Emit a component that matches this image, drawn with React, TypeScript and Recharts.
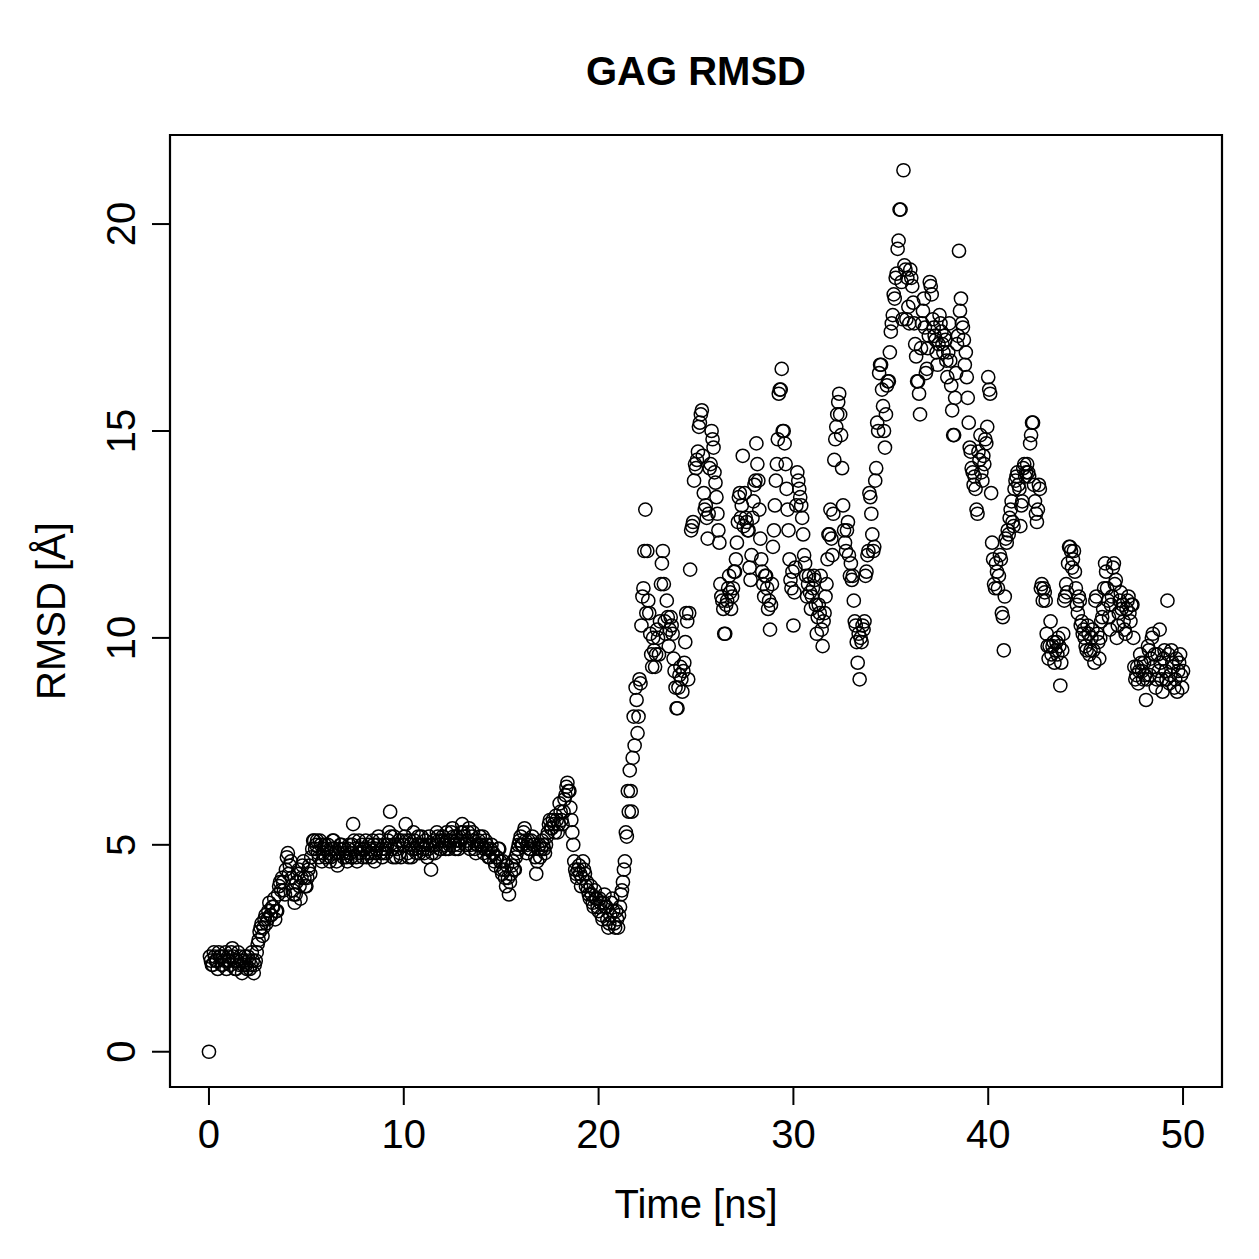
import React from "react";
import { ScatterChart, Scatter, XAxis, YAxis, ReferenceArea } from "recharts";

// RMSD (Å) sampled every 0.05 ns from 0 to 50 ns (20 values per ns)
const timeStep = 0.05;
const rmsd: number[] = [
  // 0
  0.0, 2.3, 2.2, 2.1, 2.1, 2.4, 2.3, 2.2, 2.2, 2.0,
  2.4, 2.3, 2.3, 2.1, 2.1, 2.3, 2.2, 2.4, 2.0, 2.2,
  // 1
  2.3, 2.2, 2.1, 2.4, 2.5, 2.3, 2.2, 2.0, 2.0, 2.2,
  2.4, 2.1, 2.3, 2.2, 1.9, 2.1, 2.2, 2.3, 2.1, 2.0,
  // 2
  2.3, 2.2, 2.0, 2.1, 2.4, 2.2, 1.9, 2.1, 2.2, 2.4,
  2.6, 2.7, 2.9, 3.0, 3.1, 2.8, 3.0, 3.2, 3.3, 3.1,
  // 3
  3.2, 3.4, 3.6, 3.3, 3.3, 3.5, 3.5, 3.7, 3.2, 3.4,
  3.4, 3.8, 4.0, 4.1, 3.9, 4.2, 4.1, 3.9, 3.8, 4.4,
  // 4
  4.7, 4.8, 4.3, 4.5, 4.6, 4.2, 3.9, 3.8, 3.6, 3.8,
  4.1, 4.3, 4.4, 4.0, 3.7, 4.2, 4.5, 4.6, 4.2, 4.0,
  // 5
  4.0, 4.2, 4.4, 4.5, 4.3, 4.7, 4.9, 5.1, 5.1, 4.9,
  5.0, 5.1, 4.8, 4.7, 5.1, 5.0, 4.6, 4.8, 4.9, 5.0,
  // 6
  4.7, 4.9, 5.0, 4.8, 4.6, 4.7, 4.9, 5.1, 5.1, 4.9,
  4.8, 4.6, 4.5, 4.8, 4.9, 5.0, 5.0, 4.8, 4.7, 4.9,
  // 7
  4.8, 4.7, 4.6, 4.9, 5.0, 4.8, 4.7, 5.0, 5.5, 5.1,
  4.9, 4.7, 4.6, 4.8, 5.1, 4.9, 4.8, 5.0, 4.7, 4.9,
  // 8
  4.9, 5.1, 4.7, 4.8, 5.0, 4.9, 4.8, 4.7, 5.1, 5.0,
  4.6, 4.8, 4.9, 5.0, 5.2, 5.1, 4.8, 4.9, 4.7, 4.8,
  // 9
  5.0, 4.9, 4.8, 5.0, 5.1, 5.3, 5.8, 5.2, 4.9, 4.7,
  5.2, 5.0, 4.7, 4.9, 5.0, 5.1, 4.8, 4.7, 5.1, 5.0,
  // 10
  5.0, 5.2, 5.5, 5.1, 4.8, 4.7, 5.1, 5.0, 4.7, 4.9,
  5.3, 5.1, 4.9, 4.8, 5.0, 5.2, 4.8, 5.0, 5.2, 5.0,
  // 11
  4.9, 4.8, 5.1, 5.0, 4.7, 4.9, 5.2, 5.0, 4.4, 4.8,
  5.0, 5.1, 4.8, 5.0, 5.3, 5.2, 5.1, 4.9, 4.9, 5.1,
  // 12
  5.2, 5.1, 5.0, 4.9, 5.3, 5.1, 4.9, 5.0, 5.1, 5.3,
  5.4, 5.2, 5.0, 4.9, 5.2, 5.1, 4.9, 5.0, 5.1, 5.3,
  // 13
  5.5, 5.3, 5.2, 5.0, 5.0, 5.1, 5.3, 5.4, 4.9, 5.0,
  5.2, 5.3, 5.1, 4.9, 4.8, 5.0, 5.0, 5.1, 5.2, 5.0,
  // 14
  5.0, 5.2, 4.8, 4.9, 5.1, 5.0, 4.9, 4.7, 4.7, 4.9,
  5.0, 4.8, 4.8, 4.6, 4.5, 4.7, 4.7, 4.9, 4.9, 4.6,
  // 15
  4.4, 4.3, 4.6, 4.4, 4.2, 4.0, 4.5, 4.2, 3.8, 4.1,
  4.3, 4.5, 4.6, 4.4, 4.4, 4.7, 4.8, 4.9, 5.0, 5.1,
  // 16
  5.2, 5.0, 5.0, 5.3, 5.4, 5.1, 4.8, 5.0, 5.1, 4.9,
  4.9, 5.1, 5.2, 5.0, 5.0, 4.7, 4.3, 4.6, 4.9, 5.0,
  // 17
  4.7, 4.9, 5.1, 5.0, 4.9, 4.8, 5.0, 5.2, 5.3, 5.5,
  5.6, 5.4, 5.4, 5.6, 5.5, 5.3, 5.7, 5.6, 5.3, 5.5,
  // 18
  6.0, 5.8, 5.6, 5.5, 5.8, 6.1, 6.2, 6.4, 6.5, 6.3,
  6.3, 5.9, 5.6, 5.3, 5.0, 4.6, 4.4, 4.3, 4.2, 4.4,
  // 19
  4.5, 4.3, 4.0, 4.2, 4.6, 4.4, 4.3, 4.0, 4.1, 3.9,
  3.8, 3.7, 4.0, 3.8, 3.6, 3.5, 3.9, 3.7, 3.7, 3.5,
  // 20
  3.4, 3.7, 3.6, 3.3, 3.2, 3.6, 3.8, 3.5, 3.5, 3.2,
  3.0, 3.1, 3.3, 3.6, 3.7, 3.4, 3.1, 3.0, 3.4, 3.2,
  // 21
  3.0, 3.3, 3.5, 3.8, 3.9, 4.1, 4.4, 4.6, 5.3, 5.2,
  6.3, 5.8, 6.8, 6.3, 5.8, 7.1, 8.1, 7.4, 8.8, 8.5,
  // 22
  7.7, 8.1, 9.0, 8.9, 10.3, 11.0, 11.2, 12.1, 13.1, 10.6,
  12.1, 10.9, 10.6, 10.1, 9.6, 9.3, 10.0, 9.7, 9.3, 9.6,
  // 23
  10.2, 10.0, 9.6, 10.4, 11.3, 11.8, 12.1, 11.3, 10.4, 10.1,
  10.9, 10.5, 9.8, 10.2, 10.5, 10.3, 10.1, 9.5, 9.2, 8.8,
  // 24
  8.3, 8.3, 8.8, 9.1, 9.3, 9.0, 8.7, 9.2, 9.4, 9.9,
  10.6, 10.4, 9.0, 10.6, 11.65, 12.6, 12.7, 12.8, 13.8, 14.2,
  // 25
  14.1, 14.3, 14.5, 15.1, 15.2, 15.4, 15.5, 14.4, 13.5, 13.1,
  13.2, 12.9, 12.4, 13.0, 14.1, 14.2, 15.0, 14.8, 14.6, 14.0,
  // 26
  13.75, 13.4, 13.0, 12.6, 12.3, 11.3, 11.0, 10.9, 10.7, 10.1,
  10.1, 10.8, 10.9, 11.2, 11.5, 11.1, 10.7, 11.0, 11.2, 11.6,
  // 27
  11.6, 11.9, 12.3, 12.8, 13.4, 13.5, 12.9, 13.2, 14.4, 12.7,
  13.5, 12.9, 12.8, 12.6, 12.6, 11.7, 11.4, 12.0, 12.9, 13.3,
  // 28
  13.7, 13.8, 14.7, 14.2, 13.8, 13.1, 12.4, 11.9, 11.6, 11.3,
  11.0, 11.5, 11.5, 11.2, 10.7, 10.9, 10.2, 10.8, 11.3, 12.2,
  // 29
  12.6, 13.2, 13.8, 14.2, 14.8, 15.9, 16.0, 16.0, 16.5, 15.0,
  15.0, 14.7, 14.2, 13.6, 13.1, 12.6, 11.9, 11.4, 11.2, 11.6,
  // 30
  10.3, 11.1, 11.7, 13.2, 14.0, 13.8, 13.6, 13.4, 13.2, 12.9,
  12.5, 12.0, 11.8, 11.5, 11.0, 11.3, 11.5, 11.1, 10.7, 11.0,
  // 31
  11.2, 11.5, 11.4, 10.8, 10.1, 10.5, 10.8, 10.6, 11.5, 10.2,
  9.8, 10.4, 10.6, 11.0, 11.3, 11.9, 12.5, 12.5, 13.1, 12.4,
  // 32
  12.0, 13.0, 14.3, 14.8, 15.1, 15.4, 15.7, 15.9, 15.4, 14.9,
  14.1, 13.2, 12.6, 12.3, 12.1, 12.6, 12.8, 12.0, 11.5, 11.8,
  // 33
  11.4, 11.5, 10.9, 10.4, 10.3, 9.9, 9.4, 10.1, 9.0, 10.0,
  9.9, 10.3, 10.2, 10.4, 11.5, 11.6, 12.0, 12.1, 13.5, 13.4,
  // 34
  13.0, 12.5, 12.1, 12.2, 13.8, 14.1, 15.2, 15.0, 16.4, 16.6,
  16.6, 16.0, 15.6, 15.0, 14.6, 15.4, 16.1, 16.2, 16.2, 16.9,
  // 35
  17.4, 17.6, 17.8, 18.3, 18.2, 18.7, 18.8, 19.4, 19.6, 20.35,
  20.35, 18.6, 17.7, 21.3, 19.0, 18.9, 17.7, 18.7, 18.0, 17.6,
  // 36
  18.9, 18.7, 18.5, 18.1, 17.6, 17.1, 16.8, 16.2, 16.2, 15.9,
  15.4, 17.0, 17.6, 17.9, 18.2, 17.5, 16.4, 16.5, 17.0, 17.3,
  // 37
  18.6, 18.5, 18.3, 17.7, 17.5, 17.3, 17.2, 16.9, 16.6, 17.1,
  17.8, 17.6, 17.4, 17.1, 16.9, 17.3, 17.2, 16.7, 16.3, 16.9,
  // 38
  17.6, 16.7, 16.1, 15.5, 14.9, 14.9, 15.8, 16.4, 17.1, 17.3,
  19.35, 17.9, 18.2, 17.6, 17.5, 17.2, 16.6, 16.9, 16.3, 15.8,
  // 39
  15.2, 14.6, 14.5, 14.1, 14.0, 13.7, 13.9, 13.6, 13.1, 13.0,
  14.5, 14.3, 14.9, 14.0, 13.8, 14.4, 14.2, 14.8, 14.7, 15.1,
  // 40
  16.3, 16.0, 15.9, 13.5, 12.3, 11.9, 11.3, 11.2, 11.8, 11.6,
  11.2, 11.5, 12.0, 11.9, 10.6, 10.5, 9.7, 11.0, 12.4, 12.3,
  // 41
  12.6, 12.5, 12.9, 13.1, 13.3, 12.8, 12.7, 13.6, 13.8, 13.9,
  14.0, 13.7, 13.6, 12.7, 13.2, 13.3, 14.1, 14.2, 13.9, 14.0,
  // 42
  14.2, 14.0, 13.9, 14.7, 14.9, 15.2, 15.2, 13.7, 13.3, 13.0,
  12.8, 13.1, 13.7, 13.6, 11.2, 11.3, 10.9, 11.2, 11.1, 10.9,
  // 43
  10.1, 9.8, 9.5, 9.8, 10.4, 9.6, 9.8, 9.9, 9.4, 9.7,
  9.9, 9.6, 10.0, 9.8, 8.85, 9.4, 9.7, 10.1, 10.9, 11.0,
  // 44
  11.3, 11.1, 11.8, 12.2, 12.2, 12.1, 11.7, 11.9, 12.1, 11.6,
  11.2, 10.8, 10.6, 11.0, 10.9, 10.3, 10.4, 10.1, 10.2, 10.0,
  // 45
  9.8, 9.7, 10.3, 10.1, 9.6, 9.7, 10.0, 10.2, 9.7, 9.4,
  10.9, 11.0, 10.1, 9.9, 9.5, 10.0, 10.4, 10.5, 10.7, 11.2,
  // 46
  11.8, 11.6, 11.2, 10.9, 10.5, 10.2, 10.8, 11.0, 11.7, 11.8,
  11.3, 11.4, 10.0, 10.3, 10.6, 10.9, 11.1, 10.7, 10.8, 10.4,
  // 47
  10.2, 10.1, 10.7, 10.9, 11.0, 10.6, 10.4, 10.8, 10.8, 10.0,
  9.3, 9.0, 9.1, 9.3, 8.9, 9.2, 9.6, 9.4, 9.2, 9.0,
  // 48
  9.4, 9.1, 8.5, 9.0, 9.8, 9.7, 9.1, 9.5, 10.0, 10.1,
  9.3, 9.6, 8.8, 9.0, 9.6, 9.2, 10.2, 9.4, 9.0, 8.7,
  // 49
  9.5, 9.7, 9.2, 9.0, 10.9, 9.6, 8.9, 9.1, 9.7, 9.4,
  9.3, 8.8, 9.0, 9.5, 8.7, 9.2, 9.4, 9.6, 9.1, 8.8,
  // 50
  9.2,
];

const xTicks = [0, 10, 20, 30, 40, 50];
const yTicks = [0, 5, 10, 15, 20];
const xDomain: [number, number] = [-2, 52];
const yDomain: [number, number] = [-0.852, 22.152];

const chartTitle = "GAG RMSD";
const xTitle = "Time [ns]";
const yTitle = "RMSD [Å]";

const data = rmsd.map((v, i) => ({ t: +(i * timeStep).toFixed(3), v }));

const FONT = "'Liberation Sans', Arial, Helvetica, sans-serif";

const W = 1251;
const H = 1251;

const Ring = (props: any) => {
  const { cx, cy } = props;
  if (cx == null || cy == null) return null;
  return <circle cx={cx} cy={cy} r={6.6} fill="none" stroke="#000" strokeWidth={1.5} />;
};

const XTick = (props: any) => {
  const { x, payload } = props;
  return (
    <text x={x} y={1140} textAnchor="middle" fontSize={40} fontFamily={FONT} fill="#000">
      {payload.value}
    </text>
  );
};

const YTick = (props: any) => {
  const { y, payload } = props;
  return (
    <text
      transform={`translate(127, ${y}) rotate(-90)`}
      textAnchor="middle"
      fontSize={40}
      fontFamily={FONT}
      fill="#000"
    >
      {payload.value}
    </text>
  );
};

export default function App() {
  return (
    <div style={{ position: "relative", width: W, height: H }}>
      <ScatterChart
        width={W}
        height={H}
        margin={{ top: 127, right: 37, bottom: 112, left: 82 }}
      >
        <XAxis
          type="number"
          dataKey="t"
          domain={xDomain}
          ticks={xTicks}
          allowDataOverflow
          axisLine={false}
          tickSize={18}
          tickLine={{ stroke: "#000", strokeWidth: 2 }}
          tick={<XTick />}
          height={60}
          interval={0}
        />
        <YAxis
          type="number"
          dataKey="v"
          domain={yDomain}
          ticks={yTicks}
          allowDataOverflow
          axisLine={false}
          tickSize={18}
          tickLine={{ stroke: "#000", strokeWidth: 2 }}
          tick={<YTick />}
          width={80}
          interval={0}
        />
        <ReferenceArea
          x1={xDomain[0]}
          x2={xDomain[1]}
          y1={yDomain[0]}
          y2={yDomain[1]}
          fill="none"
          stroke="#000"
          strokeWidth={2.2}
          ifOverflow="visible"
        />
        <Scatter data={data} shape={<Ring />} isAnimationActive={false} />
      </ScatterChart>
      <svg
        width={W}
        height={H}
        style={{ position: "absolute", left: 0, top: 0, pointerEvents: "none" }}
      >
        <text x={688} y={77} textAnchor="middle" fontSize={40} fontWeight="bold" fontFamily={FONT} fill="#000">
          {chartTitle}
        </text>
        <text x={688} y={1210} textAnchor="middle" fontSize={40} fontFamily={FONT} fill="#000">
          {xTitle}
        </text>
        <text
          transform={`translate(57, 603) rotate(-90)`}
          textAnchor="middle"
          fontSize={40}
          fontFamily={FONT}
          fill="#000"
        >
          {yTitle}
        </text>
      </svg>
    </div>
  );
}
